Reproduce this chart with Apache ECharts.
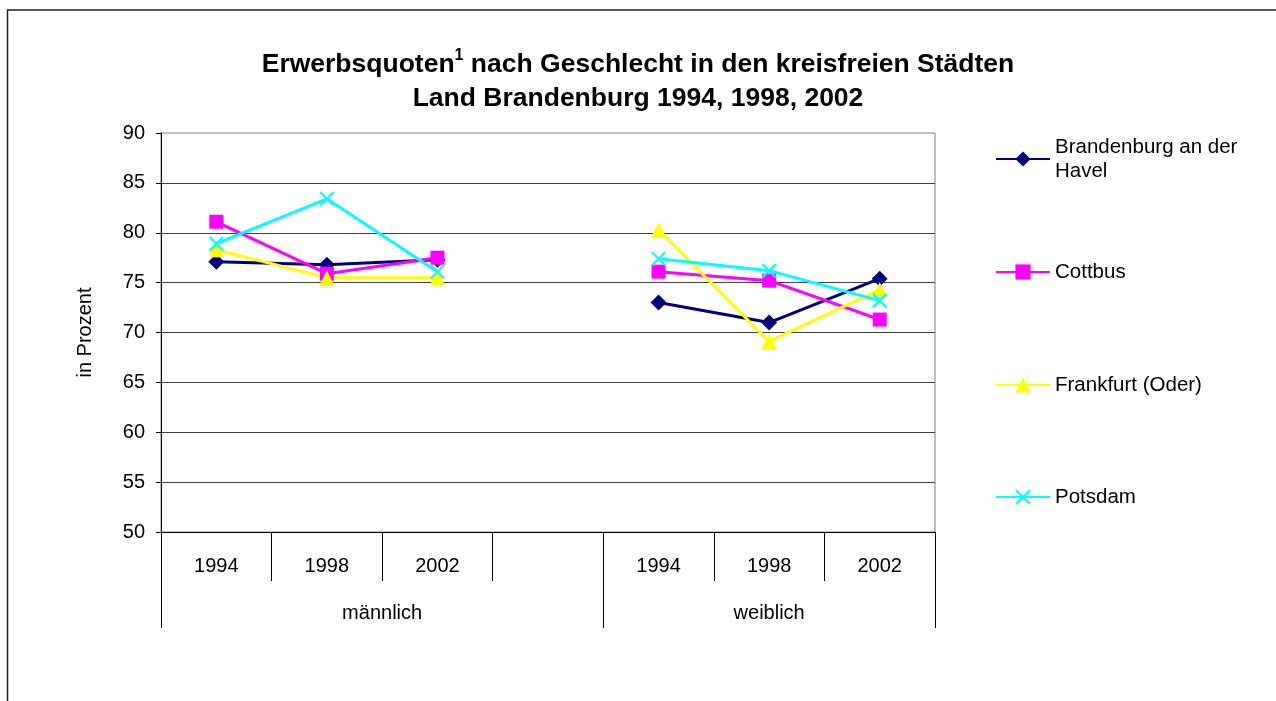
<!DOCTYPE html>
<html>
<head>
<meta charset="utf-8">
<title>Erwerbsquoten</title>
<script src="https://cdn.jsdelivr.net/npm/echarts@6/dist/echarts.min.js"></script>
<style>
    html, body { margin: 0; padding: 0; background: #fff; }
    #chart { width: 1276px; height: 701px; }
</style>
</head>
<body>
<div id="chart"></div>
<script>
    // Kategorien: Jahre je Geschlecht, dazwischen eine leere Lücke
    const years = ['1994', '1998', '2002', '', '1994', '1998', '2002'];
    const groups = ['männlich', 'weiblich'];
    const groupCenters = [2, 5.5];
    const groupBounds = [0, 4, 7];

    const brandenburg = [77.1, 76.8, 77.3, null, 73.0, 71.0, 75.4];
    const cottbus = [81.1, 75.9, 77.5, null, 76.1, 75.2, 71.3];
    const frankfurt = [78.3, 75.5, 75.5, null, 80.3, 69.1, 74.3];
    const potsdam = [78.9, 83.4, 76.1, null, 77.4, 76.2, 73.2];

    const yTicks = [50, 55, 60, 65, 70, 75, 80, 85, 90];

    const font = 'Arial, "Liberation Sans", sans-serif';
    const xSymbol = 'path://M0,1L1,0L5,4L9,0L10,1L6,5L10,9L9,10L5,6L1,10L0,9L4,5Z';

    const seriesDefs = [
        { name: 'Brandenburg an der\nHavel', data: brandenburg, color: '#000080', symbol: 'diamond', size: 16 },
        { name: 'Cottbus', data: cottbus, color: '#ff00ff', symbol: 'rect', size: 14 },
        { name: 'Frankfurt (Oder)', data: frankfurt, color: '#ffff00', symbol: 'triangle', size: 15 },
        { name: 'Potsdam', data: potsdam, color: '#00ffff', symbol: xSymbol, size: 15 }
    ];
    const legendTops = [123, 260, 373, 485];

    let chart = echarts.init(document.getElementById('chart'));

    const legends = seriesDefs.map((s, i) => ({
        data: [s.name],
        left: 995,
        top: legendTops[i],
        padding: 0,
        itemWidth: 54,
        itemHeight: 19,
        selectedMode: false,
        lineStyle: { width: 2 },
        textStyle: {
            fontFamily: font,
            fontSize: 20.5,
            color: '#000',
            lineHeight: 24,
            padding: i === 0 ? [24, 0, 0, 0] : 0
        }
    }));

    const option = {
        backgroundColor: '#fff',
        animation: false,
        title: {
            left: 'center',
            top: 43,
            itemGap: 0,
            text: '{a|Erwerbsquoten}{s|1}{a| nach Geschlecht in den kreisfreien Städten}\n{a|Land Brandenburg 1994, 1998, 2002}',
            textStyle: {
                rich: {
                    a: { fontFamily: font, fontSize: 26.5, fontWeight: 'bold', color: '#000', lineHeight: 34 },
                    s: { fontFamily: font, fontSize: 16, fontWeight: 'bold', color: '#000', lineHeight: 18, verticalAlign: 'top' }
                }
            }
        },
        legend: legends,
        grid: {
            left: 161,
            right: 341,
            top: 133,
            bottom: 169,
            show: true,
            borderColor: '#808080',
            borderWidth: 1
        },
        xAxis: [
            {
                type: 'category',
                data: years,
                boundaryGap: true,
                axisLine: { lineStyle: { color: '#000', width: 1 } },
                axisTick: { show: true, interval: 0, length: 49, lineStyle: { color: '#000' } },
                axisLabel: { interval: 0, margin: 24, fontFamily: font, fontSize: 20, color: '#000' },
                splitLine: { show: false }
            },
            {
                type: 'value',
                min: 0,
                max: 7,
                position: 'bottom',
                axisLine: { show: false },
                axisTick: { show: true, customValues: groupBounds, length: 96, lineStyle: { color: '#000' } },
                axisLabel: {
                    customValues: groupCenters,
                    margin: 71,
                    fontFamily: font,
                    fontSize: 20,
                    color: '#000',
                    formatter: (v) => groups[groupCenters.indexOf(v)]
                },
                splitLine: { show: false }
            }
        ],
        yAxis: {
            type: 'value',
            min: 50,
            max: 90,
            interval: 5,
            name: 'in Prozent',
            nameLocation: 'middle',
            nameGap: 66,
            nameTextStyle: { fontFamily: font, fontSize: 20, color: '#000' },
            axisLine: { show: true, lineStyle: { color: '#000' } },
            axisTick: { show: true, length: 5, lineStyle: { color: '#000' } },
            axisLabel: {
                margin: 16,
                fontFamily: font,
                fontSize: 20,
                color: '#000',
                formatter: (v) => (yTicks.indexOf(v) >= 0 ? String(v) : '')
            },
            splitLine: { show: true, showMaxLine: false, lineStyle: { color: '#404040', width: 1 } }
        },
        graphic: [
            {
                type: 'rect',
                shape: { x: 7.5, y: 10, width: 1400, height: 900 },
                style: { fill: null, stroke: '#222', lineWidth: 1.5 },
                silent: true,
                z: -1
            }
        ],
        series: seriesDefs.map((s) => ({
            name: s.name,
            type: 'line',
            xAxisIndex: 0,
            data: s.data,
            connectNulls: false,
            symbol: s.symbol,
            symbolSize: s.size,
            showAllSymbol: true,
            color: s.color,
            lineStyle: { color: s.color, width: 3 },
            itemStyle: { color: s.color, borderWidth: 0 }
        }))
    };
    chart.setOption(option);
</script>
</body>
</html>
